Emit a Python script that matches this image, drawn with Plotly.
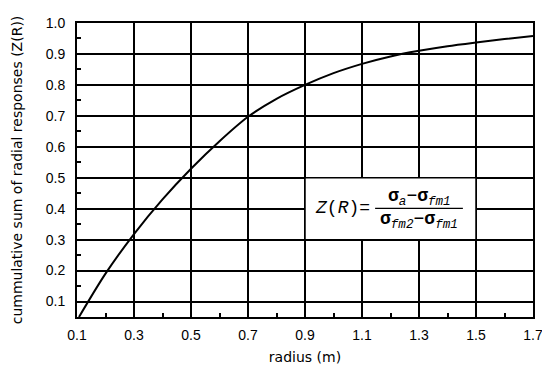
import plotly.graph_objects as go

radius = [0.107, 0.2, 0.3, 0.4, 0.5, 0.6, 0.7, 0.8, 0.9, 1.0, 1.1, 1.2, 1.3, 1.4, 1.5, 1.6, 1.7]
z_r = [0.05, 0.19, 0.318, 0.43, 0.529, 0.618, 0.697, 0.755, 0.80, 0.838, 0.868, 0.892, 0.91, 0.925, 0.937, 0.948, 0.958]

x_ticks = [0.1, 0.3, 0.5, 0.7, 0.9, 1.1, 1.3, 1.5, 1.7]
y_ticks = [0.1, 0.2, 0.3, 0.4, 0.5, 0.6, 0.7, 0.8, 0.9, 1.0]

fig = go.Figure()
fig.add_trace(go.Scatter(x=radius, y=z_r, mode="lines",
                         line=dict(color="black", width=2, shape="spline", smoothing=0.8),
                         showlegend=False, hoverinfo="skip"))

tickfont = dict(family="Liberation Sans, Arial, sans-serif", size=14, color="black")
titlefont = dict(family="DejaVu Sans, sans-serif", size=14, color="black")

# page body adds an 8px offset; figure fills the rest of the 550x368 window
fig.update_layout(
    width=542, height=360,
    margin=dict(l=69, r=17, t=15, b=51, autoexpand=False),
    paper_bgcolor="white", plot_bgcolor="white",
    xaxis=dict(range=[0.1, 1.7], tickvals=x_ticks, ticktext=[f"{v:.1f}" for v in x_ticks],
               showgrid=True, gridcolor="black", gridwidth=1.5,
               showline=True, linecolor="black", linewidth=2, mirror=True,
               ticks="", tickfont=tickfont, ticklabelstandoff=4, automargin=False,
               minor=dict(tickvals=[0.2, 0.4, 0.6, 0.8, 1.0, 1.2, 1.4, 1.6], ticks="inside",
                          ticklen=4, tickwidth=1.5, tickcolor="black", showgrid=False),
               title=dict(text="radius (m)", font=titlefont, standoff=10),
               zeroline=False, fixedrange=True),
    yaxis=dict(range=[0.05, 1.0], tickvals=y_ticks, ticktext=[f"{v:.1f}" for v in y_ticks],
               showgrid=True, gridcolor="black", gridwidth=1.5,
               showline=True, linecolor="black", linewidth=2, mirror=True,
               ticks="", tickfont=tickfont, ticklabelstandoff=7, automargin=False,
               minor=dict(tickvals=[0.15, 0.25, 0.35, 0.45, 0.55, 0.65, 0.75, 0.85, 0.95],
                          ticks="inside", ticklen=4, tickwidth=1.5, tickcolor="black", showgrid=False),
               title=dict(text="cummulative sum of radial responses (Z(R))", font=titlefont, standoff=20),
               zeroline=False, fixedrange=True),
)

# equation box
fig.add_shape(type="rect", x0=0.9, x1=1.5, y0=0.3, y1=0.5, xref="x", yref="y",
              fillcolor="white", line=dict(color="black", width=1.5), layer="above")
fig.add_shape(type="line", x0=1.146, x1=1.454, y0=0.401, y1=0.401, xref="x", yref="y",
              line=dict(color="black", width=1.2), layer="above")

eqfont = dict(family="Liberation Mono, Courier New, monospace", size=18, color="black")
fig.add_annotation(x=1.033, y=0.401, xref="x", yref="y", showarrow=False,
                   text="<i>Z</i>(<i>R</i>)=", font=eqfont)
fig.add_annotation(x=1.30, y=0.437, xref="x", yref="y", showarrow=False,
                   text="<b>σ</b><sub><i>a</i></sub>−<b>σ</b><sub><i>fm1</i></sub>", font=eqfont)
fig.add_annotation(x=1.30, y=0.362, xref="x", yref="y", showarrow=False,
                   text="<b>σ</b><sub><i>fm2</i></sub>−<b>σ</b><sub><i>fm1</i></sub>", font=eqfont)

fig.write_html("out.html")
